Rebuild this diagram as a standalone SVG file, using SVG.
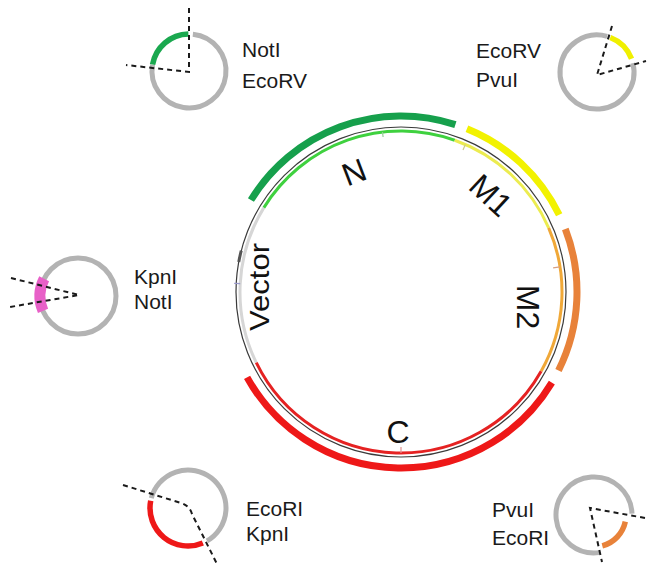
<svg xmlns="http://www.w3.org/2000/svg" width="648" height="566" viewBox="0 0 648 566">
<style>
.lbl{font-family:"Liberation Sans",Arial,sans-serif;font-size:21px;fill:#1a1a1a}
.big{font-family:"Liberation Sans",Arial,sans-serif;font-size:32px;fill:#111;text-anchor:middle}
.ring{fill:none;stroke:#b3b3b3;stroke-width:5}
.seg{fill:none;stroke-width:5.5}
.dash{fill:none;stroke:#1a1a1a;stroke-width:2;stroke-dasharray:5 4}
.outer{fill:none;stroke-width:7}
.inner{fill:none;stroke-width:3}
.tick{fill:none;stroke-width:1.2}
</style>
<rect width="648" height="566" fill="#fff"/>

<g id="plasmid">
  <path class="inner" stroke="#d6d6d6" d="M256.29,362.58 A161,161 0 0 1 263.88,207.63"/>
  <circle cx="401" cy="292" r="165" fill="none" stroke="#3a3a3a" stroke-width="1.2"/>
  <path d="M241.26,250.68 A165,165 0 0 0 238.76,261.94" fill="none" stroke="#555" stroke-width="3"/>
  <line class="tick" x1="240.2" y1="283.6" x2="234.2" y2="283.3" stroke="#9a9acc"/>
</g>

<g id="N">
  <path class="outer" stroke="#16a04c" d="M250.94,200.04 A176,176 0 0 1 455.39,124.61"/>
  <path class="inner" stroke="#3fd13f" d="M263.88,207.63 A161,161 0 0 1 454.74,140.24"/>
  <line class="tick" x1="382.5" y1="132.1" x2="383.1" y2="137" stroke="#9c9"/>
  <text class="big" transform="translate(354,172) rotate(-21)" y="11.5">N</text>
</g>

<g id="M1">
  <path class="outer" stroke="#f2f200" d="M466.93,128.82 A176,176 0 0 1 559.19,214.84"/>
  <path class="inner" stroke="#ecec50" d="M454.74,140.24 A161,161 0 0 1 548.65,227.81"/>
  <line class="tick" x1="465.4" y1="144.5" x2="463" y2="150" stroke="#cc8"/>
  <text class="big" transform="translate(491,195) rotate(43)" y="11.5">M1</text>
</g>

<g id="M2">
  <path class="outer" stroke="#e8823a" d="M565.31,228.93 A176,176 0 0 1 558.5,370.53"/>
  <path class="inner" stroke="#f0a838" d="M548.65,227.81 A161,161 0 0 1 541.13,371.28"/>
  <line class="tick" x1="560" y1="266.8" x2="553.1" y2="267.9" stroke="#d9a080"/>
  <text class="big" transform="translate(528,307) rotate(90)" y="11.5">M2</text>
</g>

<g id="C">
  <path class="outer" stroke="#ee1818" d="M551.86,382.65 A176,176 0 0 1 247.07,377.33"/>
  <path class="inner" stroke="#e52222" d="M541.13,371.28 A161,161 0 0 1 256.29,362.58"/>
  <line class="tick" x1="401" y1="453" x2="401" y2="447" stroke="#e09090"/>
  <text class="big" x="398" y="443">C</text>
</g>

<g id="Vector">
  <text class="big" style="font-size:28px" transform="translate(259,287) rotate(-90)" y="10" textLength="88" lengthAdjust="spacingAndGlyphs">Vector</text>
</g>

<g id="NotI-EcoRV">
  <path class="ring" d="M192.87,34.2 A37,37 0 1 1 152.56,64.58"/>
  <path class="seg" stroke="#1aa84f" d="M152.56,64.58 A37,37 0 0 1 188.35,34.01"/>
  <text class="lbl" x="242" y="57">NotI</text>
  <text class="lbl" x="242" y="88">EcoRV</text>
</g>

<g id="EcoRV-PvuI">
  <path class="ring" d="M632.9,63.05 A37,37 0 1 1 607.2,36.43"/>
  <path class="seg" stroke="#f0f000" d="M610.26,37.46 A37,37 0 0 1 631.54,58.74"/>
  <text class="lbl" x="476" y="58">EcoRV</text>
  <text class="lbl" x="476" y="87">PvuI</text>
</g>

<g id="KpnI-NotI">
  <circle class="ring" cx="78" cy="296" r="38"/>
  <path fill="none" stroke="#e860c8" stroke-width="11" d="M43.02,310.85 A38,38 0 0 1 44.14,278.75"/>
  <text class="lbl" x="134" y="284">KpnI</text>
  <text class="lbl" x="134" y="309">NotI</text>
</g>

<g id="EcoRI-KpnI">
  <path class="ring" d="M151.3,498.17 A38,38 0 1 1 207,540.91"/>
  <path class="seg" stroke="#ee1818" d="M202.85,542.98 A38,38 0 0 1 150.7,500.75"/>
  <text class="lbl" x="246" y="516">EcoRI</text>
  <text class="lbl" x="246" y="541">KpnI</text>
</g>

<g id="PvuI-EcoRI">
  <path class="ring" d="M599.29,552.63 A38,38 0 1 1 631.98,513.67"/>
  <path class="seg" stroke="#e8823a" d="M625.3,521.65 A32,32 0 0 1 602.3,545.9"/>
  <text class="lbl" x="492" y="517">PvuI</text>
  <text class="lbl" x="492" y="545">EcoRI</text>
</g>

<g id="connectors">
  <path class="dash" d="M189,8 L189,72 L126,65"/>
  <path class="dash" d="M612,26 L597,75 L646,61"/>
  <path class="dash" d="M11,278 L79,295 L10,307"/>
  <path class="dash" d="M123,485 L181,503 Q190,506 192,514 L218,566"/>
  <path class="dash" d="M645,518 L590,508 L602,562"/>
</g>
</svg>
